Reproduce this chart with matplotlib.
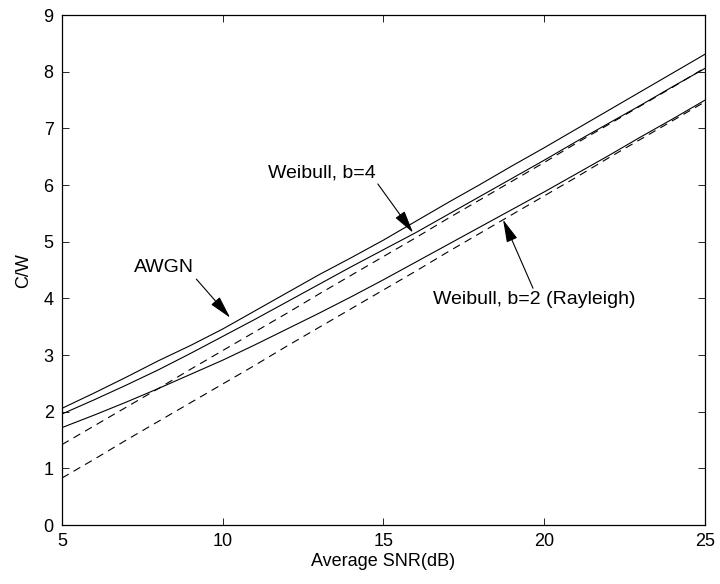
import matplotlib
matplotlib.use("Agg")
import matplotlib.pyplot as plt

plt.rcParams["font.family"] = ["Liberation Sans", "DejaVu Sans"]

# average SNR in dB
snr_db = [5, 6, 7, 8, 9, 10, 11, 12, 13, 14, 15, 16, 17, 18, 19, 20, 21, 22, 23, 24, 25]

# normalised capacity C/W (bits/s/Hz)
cap_awgn = [2.06, 2.33, 2.61, 2.90, 3.17, 3.46, 3.78, 4.10, 4.42, 4.72, 5.03,
            5.36, 5.69, 6.01, 6.34, 6.66, 6.99, 7.32, 7.65, 7.98, 8.31]
cap_weibull_b4 = [1.96, 2.21, 2.47, 2.74, 3.03, 3.33, 3.63, 3.94, 4.25, 4.56, 4.86,
                  5.16, 5.48, 5.80, 6.12, 6.44, 6.77, 7.09, 7.41, 7.74, 8.06]
cap_weibull_b2 = [1.72, 1.94, 2.17, 2.41, 2.66, 2.91, 3.18, 3.46, 3.74, 4.03, 4.33,
                  4.64, 4.95, 5.26, 5.57, 5.88, 6.20, 6.52, 6.85, 7.17, 7.50]
# high-SNR approximations
approx_b4 = [1.42, 1.75, 2.08, 2.41, 2.75, 3.08, 3.41, 3.74, 4.08, 4.41, 4.74,
             5.07, 5.41, 5.74, 6.07, 6.40, 6.74, 7.07, 7.40, 7.73, 8.07]
approx_b2 = [0.83, 1.16, 1.50, 1.83, 2.16, 2.49, 2.82, 3.16, 3.49, 3.82, 4.15,
             4.48, 4.82, 5.15, 5.48, 5.81, 6.14, 6.48, 6.81, 7.14, 7.47]

fig = plt.figure(figsize=(7.2, 5.84), dpi=100)
ax = fig.add_axes([0.0861, 0.101, 0.893, 0.873])

solid = dict(color="black", linewidth=0.8)
dashed = dict(color="black", linewidth=0.8, linestyle=(0, (7, 5)))

ax.plot(snr_db, cap_awgn, **solid)
ax.plot(snr_db, cap_weibull_b4, **solid)
ax.plot(snr_db, cap_weibull_b2, **solid)
ax.plot(snr_db, approx_b4, **dashed)
ax.plot(snr_db, approx_b2, **dashed)

arrow = dict(arrowstyle="-|>,head_length=1.0,head_width=0.25", color="black",
             linewidth=0.8, mutation_scale=14, shrinkA=0, shrinkB=0)
ax.annotate("AWGN", xy=(10.23, 3.66), xytext=(8.17, 4.54), fontsize=14,
            ha="center", va="center", arrowprops=dict(arrow, relpos=(1.0, 0.0)))
ax.annotate("Weibull, b=4", xy=(15.92, 5.16), xytext=(11.41, 6.22), fontsize=14,
            ha="left", va="center", arrowprops=dict(arrow, relpos=(1.0, 0.0)))
ax.annotate("Weibull, b=2 (Rayleigh)", xy=(18.72, 5.39), xytext=(16.54, 3.98),
            fontsize=14, ha="left", va="center",
            arrowprops=dict(arrow, relpos=(0.5, 1.0)))

ax.set_xlim(5, 25)
ax.set_ylim(0, 9)
ax.set_xticks([5, 10, 15, 20, 25])
ax.set_yticks(range(0, 10))
ax.tick_params(direction="in", length=5, width=0.6, top=True, right=True,
               labelsize=13, pad=6)
for spine in ax.spines.values():
    spine.set_linewidth(0.9)

ax.set_xlabel("Average SNR(dB)", fontsize=13, labelpad=2)
ax.set_ylabel("C/W", fontsize=13, labelpad=8)

fig.savefig("out.png", dpi=100)
